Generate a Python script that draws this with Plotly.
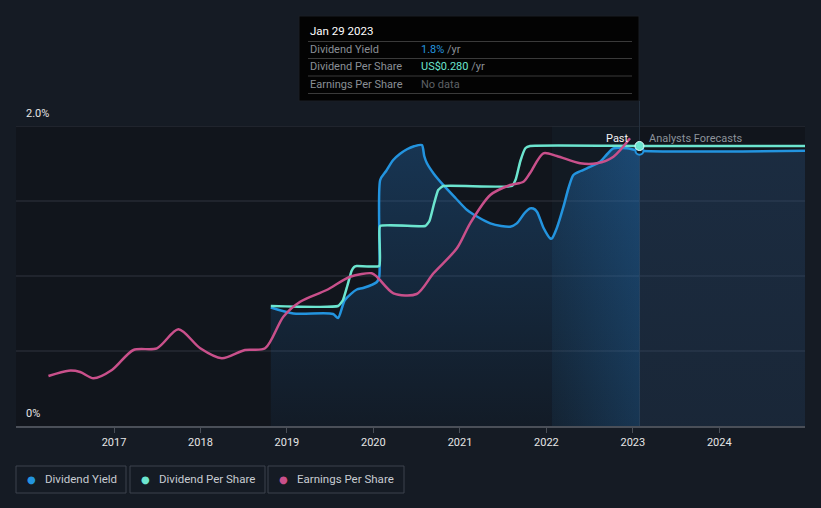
import plotly.graph_objects as go

# ---------------- data ----------------
dy_dates = ["2018-10-25", "2019-01-28", "2019-07-15", "2019-08-05", "2019-09-03", "2019-10-23",
            "2019-11-19", "2020-01-16", "2020-01-26", "2020-01-30", "2020-02-24", "2020-03-25",
            "2020-04-23", "2020-05-22", "2020-06-21", "2020-07-24", "2020-08-03", "2020-08-14",
            "2020-09-13", "2020-10-22", "2020-12-13", "2021-01-31", "2021-03-21", "2021-05-09",
            "2021-06-24", "2021-08-01", "2021-08-29", "2021-10-01", "2021-10-24", "2021-11-06",
            "2021-11-22", "2021-12-20", "2022-01-17", "2022-01-24", "2022-02-14", "2022-03-14",
            "2022-04-05", "2022-04-25", "2022-05-26", "2022-06-21", "2022-08-16", "2022-09-13",
            "2022-10-11", "2022-12-07", "2023-01-29"]
dy_values = [0.79, 0.75, 0.747, 0.72, 0.84, 0.91,
             0.92, 0.96, 0.995, 1.64, 1.70, 1.773,
             1.815, 1.845, 1.865, 1.873, 1.80, 1.753,
             1.68, 1.607, 1.52, 1.44, 1.39, 1.351,
             1.333, 1.329, 1.351, 1.42, 1.451, 1.45,
             1.429, 1.32, 1.251, 1.25, 1.32, 1.462,
             1.59, 1.673, 1.70, 1.718, 1.762, 1.81,
             1.851, 1.851, 1.835]
dy_fc_dates = ["2023-01-29", "2024-12-28"]
dy_fc_values = [1.835, 1.835]

dps_dates = ["2018-10-25", "2019-08-05", "2019-08-26", "2019-09-13", "2019-10-01", "2019-10-12",
             "2019-10-23", "2020-01-26", "2020-01-28", "2020-01-30", "2020-08-07", "2020-08-25",
             "2020-09-13", "2020-10-01", "2020-10-22", "2021-08-08", "2021-08-25", "2021-09-13",
             "2021-10-05", "2021-10-24", "2023-01-29"]
dps_values = [0.12, 0.12, 0.126, 0.14, 0.155, 0.159,
              0.16, 0.16, 0.18, 0.20, 0.20, 0.205,
              0.222, 0.236, 0.24, 0.24, 0.247, 0.265,
              0.278, 0.28, 0.28]
dps_fc_dates = ["2023-01-29", "2024-12-28"]
dps_fc_values = [0.28, 0.28]

eps_dates = ["2016-03-30", "2016-06-23", "2016-08-11", "2016-10-06", "2016-12-23", "2017-03-24",
             "2017-07-01", "2017-09-30", "2017-12-31", "2018-04-01", "2018-07-08", "2018-10-01",
             "2018-12-17", "2019-02-26", "2019-06-18", "2019-09-25", "2019-12-25", "2020-01-16",
             "2020-03-26", "2020-07-02", "2020-09-11", "2020-12-19", "2021-02-13", "2021-05-09",
             "2021-08-01", "2021-09-26", "2021-10-24", "2021-12-19", "2022-02-14", "2022-05-23",
             "2022-08-02", "2022-10-11", "2022-12-20"]
eps_values = [0.50, 0.553, 0.54, 0.477, 0.56, 0.76,
              0.777, 0.967, 0.777, 0.677, 0.76, 0.777,
              1.093, 1.243, 1.36, 1.493, 1.527, 1.493,
              1.327, 1.32, 1.527, 1.777, 2.027, 2.31,
              2.41, 2.443, 2.53, 2.727, 2.70, 2.627,
              2.627, 2.693, 2.877]

year_ticks = ["2017-01-01", "2018-01-01", "2019-01-01", "2020-01-01", "2021-01-01",
              "2022-01-01", "2023-01-01", "2024-01-01"]
year_labels = ["2017", "2018", "2019", "2020", "2021", "2022", "2023", "2024"]
y_labels = ["0%", "2.0%"]

band_start = "2022-01-24"
hover_date = "2023-01-29"

tooltip_date = "Jan 29 2023"
tooltip_rows = ["Dividend Yield", "Dividend Per Share", "Earnings Per Share"]
tooltip_vals = ["1.8%", "US$0.280", "No data"]

legend_names = ["Dividend Yield", "Dividend Per Share", "Earnings Per Share"]

BLUE = "#2394DF"
TEAL = "#6CE5CF"
PINK = "#C9508B"
BG = "#151B24"
PLOT_BG = "#11151c"

# ---------------- layout helpers (pixel -> paper) ----------------
L, R, T, B = 16, 16, 126, 82
W, H = 821, 508
PW, PH = W - L - R, H - T - B


def X(px):
    return (px - L) / PW


def Y(py):
    return (H - B - py) / PH


fig = go.Figure()

# past dividend-yield area (vertical gradient)
fig.add_trace(go.Scatter(x=dy_dates, y=dy_values, mode="lines", line=dict(color="rgba(0,0,0,0)", width=0, shape="spline", smoothing=0.7),
                         fill="tozeroy",
                         fillgradient=dict(type="vertical", start=0, stop=1.9,
                                           colorscale=[[0, "rgba(35,110,180,0.07)"], [1, "rgba(35,110,180,0.36)"]]),
                         hoverinfo="skip", showlegend=False))
# brighter highlight within the last year (horizontal gradient)
band_idx = [i for i, d in enumerate(dy_dates) if d >= band_start]
fig.add_trace(go.Scatter(x=[dy_dates[i] for i in band_idx], y=[dy_values[i] for i in band_idx], mode="lines",
                         line=dict(color="rgba(0,0,0,0)", width=0, shape="spline", smoothing=0.7),
                         fill="tozeroy",
                         fillgradient=dict(type="horizontal",
                                           colorscale=[[0, "rgba(40,140,230,0.03)"], [1, "rgba(40,140,230,0.20)"]]),
                         hoverinfo="skip", showlegend=False))
# forecast dividend-yield area
fig.add_trace(go.Scatter(x=dy_fc_dates, y=dy_fc_values, mode="lines", line=dict(color="rgba(0,0,0,0)", width=0),
                         fill="tozeroy",
                         fillgradient=dict(type="vertical", start=0, stop=1.84,
                                           colorscale=[[0, "rgba(45,80,120,0.30)"], [1, "rgba(45,85,130,0.36)"]]),
                         hoverinfo="skip", showlegend=False))

# lines
fig.add_trace(go.Scatter(x=eps_dates, y=eps_values, yaxis="y3", mode="lines",
                         line=dict(color=PINK, width=2.5, shape="spline", smoothing=0.8),
                         name="Earnings Per Share", showlegend=False))
fig.add_trace(go.Scatter(x=dy_dates + dy_fc_dates[1:], y=dy_values + dy_fc_values[1:], mode="lines",
                         line=dict(color=BLUE, width=2.5, shape="spline", smoothing=0.7),
                         name="Dividend Yield", showlegend=False))
fig.add_trace(go.Scatter(x=dps_dates + dps_fc_dates[1:], y=dps_values + dps_fc_values[1:], yaxis="y2",
                         mode="lines", line=dict(color=TEAL, width=2.5, shape="spline", smoothing=0.4),
                         name="Dividend Per Share", showlegend=False))

# markers at the hover date
fig.add_trace(go.Scatter(x=[dy_fc_dates[0]], y=[dy_fc_values[0]], mode="markers",
                         marker=dict(size=8, color=BG, line=dict(color=BLUE, width=2)),
                         showlegend=False, hoverinfo="skip"))
fig.add_trace(go.Scatter(x=[dps_fc_dates[0]], y=[dps_fc_values[0]], yaxis="y2", mode="markers",
                         marker=dict(size=9, color=TEAL, line=dict(color="#dff", width=1)),
                         showlegend=False, hoverinfo="skip"))

shapes = []
# subtle highlight band (past year)
shapes.append(dict(type="rect", xref="x", yref="paper", x0=band_start, x1=hover_date, y0=0, y1=1,
                   fillcolor="rgba(40,130,220,0.045)", line=dict(width=0), layer="below"))
# gridlines
for gy in [0.5, 1.0, 1.5, 2.0]:
    shapes.append(dict(type="line", xref="paper", yref="y", x0=0, x1=1, y0=gy, y1=gy,
                       line=dict(color="#30353e", width=1), layer="below"))
# vertical hover line
shapes.append(dict(type="line", xref="x", yref="paper", x0=hover_date, x1=hover_date,
                   y0=0, y1=Y(101), line=dict(color="#26323f", width=1), layer="below"))
# tooltip box
shapes.append(dict(type="rect", xref="paper", yref="paper", x0=X(299), x1=X(639), y0=Y(16), y1=Y(101),
                   fillcolor="#030303", line=dict(color="#1a1e24", width=1)))
for sy in [41.5, 58.5, 76, 93.5]:
    shapes.append(dict(type="line", xref="paper", yref="paper", x0=X(308), x1=X(632), y0=Y(sy), y1=Y(sy),
                       line=dict(color="#3a3a3a", width=1)))
# legend boxes
legend_boxes = [(16, 126), (130, 265), (268, 404)]
for (x0, x1) in legend_boxes:
    shapes.append(dict(type="rect", xref="paper", yref="paper", x0=X(x0), x1=X(x1), y0=Y(466), y1=Y(493),
                       fillcolor="rgba(0,0,0,0)", line=dict(color="#3d434d", width=1)))

ann = []
FONT = "Roboto"
ann.append(dict(x=X(24), y=Y(114), xref="paper", yref="paper", text=y_labels[1], showarrow=False,
                xanchor="left", yanchor="middle", font=dict(family=FONT, size=11, color="#e6e6e6")))
ann.append(dict(x=X(24), y=Y(413), xref="paper", yref="paper", text=y_labels[0], showarrow=False,
                xanchor="left", yanchor="middle", font=dict(family=FONT, size=11, color="#e6e6e6")))
ann.append(dict(x=X(631), y=Y(138), xref="paper", yref="paper", text="Past", showarrow=False,
                xanchor="right", yanchor="middle", font=dict(family=FONT, size=11, color="#f2f2f2")))
ann.append(dict(x=X(647), y=Y(138), xref="paper", yref="paper", text="Analysts Forecasts", showarrow=False,
                xanchor="left", yanchor="middle", font=dict(family=FONT, size=11, color="#8d939b")))
# tooltip text
ann.append(dict(x=X(308), y=Y(31), xref="paper", yref="paper", text=tooltip_date, showarrow=False,
                xanchor="left", yanchor="middle", font=dict(family=FONT, size=11.5, color="#ffffff")))
row_y = [49, 66.5, 84]
val_colors = [BLUE, TEAL, "#5e6166"]
for i, (lab, val) in enumerate(zip(tooltip_rows, tooltip_vals)):
    ann.append(dict(x=X(308), y=Y(row_y[i]), xref="paper", yref="paper", text=lab, showarrow=False,
                    xanchor="left", yanchor="middle", font=dict(family=FONT, size=11, color="#8a8f96")))
    suffix = "" if val == "No data" else " <span style='color:#8a8f96'>/yr</span>"
    ann.append(dict(x=X(419), y=Y(row_y[i]), xref="paper", yref="paper",
                    text=f"<span style='color:{val_colors[i]}'>{val}</span>{suffix}", showarrow=False,
                    xanchor="left", yanchor="middle", font=dict(family=FONT, size=11, color="#8a8f96")))
# legend text
leg_colors = [BLUE, TEAL, PINK]
for (x0, x1), name, c in zip(legend_boxes, legend_names, leg_colors):
    ann.append(dict(x=X(x0 + 9), y=Y(479.5), xref="paper", yref="paper", text="●", showarrow=False,
                    xanchor="left", yanchor="middle", font=dict(family="DejaVu Sans", size=10, color=c)))
    ann.append(dict(x=X(x0 + 27), y=Y(479.5), xref="paper", yref="paper", text=name, showarrow=False,
                    xanchor="left", yanchor="middle", font=dict(family=FONT, size=11.5, color="#c8ccd2")))

fig.update_layout(
    width=W, height=H,
    margin=dict(l=L, r=R, t=T, b=B, pad=0),
    paper_bgcolor=BG, plot_bgcolor=PLOT_BG,
    showlegend=False,
    hovermode=False,
    xaxis=dict(type="date", range=["2015-11-14", "2024-12-28"], tickvals=year_ticks, ticktext=year_labels,
               showgrid=False, zeroline=False, showline=True, linecolor="#4a4f58", linewidth=1.5,
               ticks="outside", ticklen=5, tickcolor="#4a4f58",
               tickfont=dict(family=FONT, size=11, color="#e6e6e6")),
    yaxis=dict(range=[0, 2.0], showgrid=False, zeroline=False, showticklabels=False, fixedrange=True),
    yaxis2=dict(range=[0, 0.3], overlaying="y", visible=False),
    yaxis3=dict(range=[0, 3.0], overlaying="y", visible=False),
    shapes=shapes,
    annotations=ann,
)

fig.write_html("out.html")
